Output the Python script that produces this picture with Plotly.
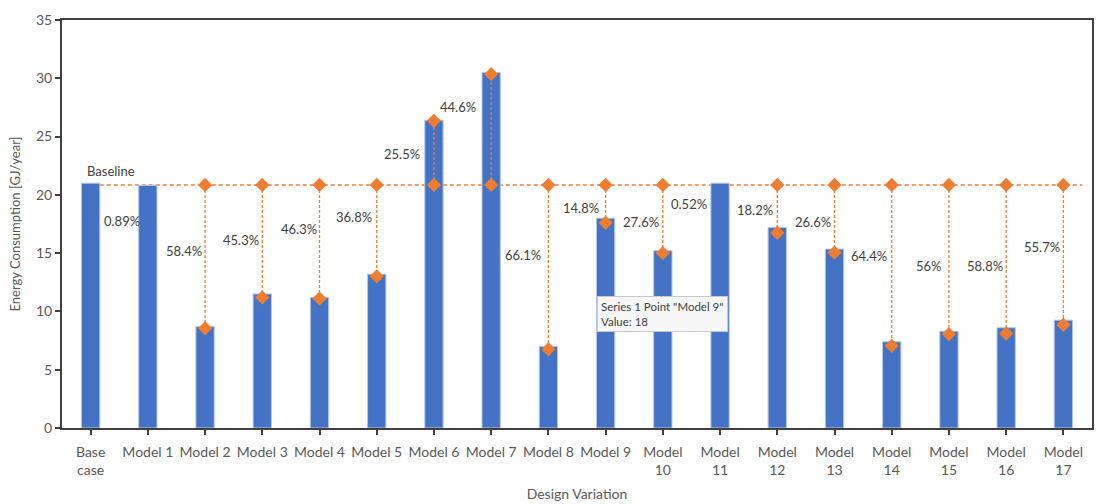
import plotly.graph_objects as go

categories = ["Base<br>case", "Model 1", "Model 2", "Model 3", "Model 4", "Model 5",
              "Model 6", "Model 7", "Model 8", "Model 9", "Model<br>10", "Model<br>11",
              "Model<br>12", "Model<br>13", "Model<br>14", "Model<br>15", "Model<br>16",
              "Model<br>17"]
energy = [21.0, 20.8, 8.7, 11.5, 11.2, 13.2, 26.4, 30.5, 7.0, 18.0, 15.2, 21.0,
          17.2, 15.35, 7.4, 8.3, 8.6, 9.25]
baseline_value = 20.85
# orange reference series: model index -> marker value at the bar
marker_models = [2, 3, 4, 5, 6, 7, 8, 9, 10, 12, 13, 14, 15, 16, 17]
marker_values = [8.55, 11.2, 11.1, 13.0, 26.35, 30.35, 6.75, 17.6, 15.0, 16.75,
                 15.05, 7.05, 8.05, 8.1, 8.85]
pct_models = [1, 2, 3, 4, 5, 6, 7, 8, 9, 10, 11, 12, 13, 14, 15, 16, 17]
pct_labels = ["0.89%", "58.4%", "45.3%", "46.3%", "36.8%", "25.5%", "44.6%", "66.1%",
              "14.8%", "27.6%", "0.52%", "18.2%", "26.6%", "64.4%", "56%", "58.8%", "55.7%"]
tooltip_model = 9

# label placement (layout only)
pct_label_y = [17.8, 15.18, 16.12, 17.1, 18.1, 23.5, 27.5, 14.84, 18.87, 17.67, 19.2,
               18.7, 17.7, 14.78, 13.92, 13.92, 15.55]
pct_label_xshift = [-6, -1, -1, -1, -3, -12, -13, -5, -5, -2, -11, -2, -2, -3, -5, -1, -1]

ORANGE = "#ED7D31"
BLUE = "#4472C4"
FONT = "Lato"

fig = go.Figure()
fig.add_trace(go.Bar(x=categories, y=energy, width=0.32,
                     marker=dict(color=BLUE, line=dict(color="#B4C7E7", width=1)),
                     showlegend=False, hoverinfo="skip"))

for i, v in zip(marker_models, marker_values):
    fig.add_trace(go.Scatter(
        x=[categories[i], categories[i]], y=[baseline_value, v], mode="lines+markers",
        line=dict(color=ORANGE, width=1.3, dash="3px,2px"),
        marker=dict(symbol="diamond", size=11, color=ORANGE),
        showlegend=False, hoverinfo="skip"))

fig.add_shape(type="line", xref="x", yref="y", x0=0.16, x1=len(categories) - 1 + 0.33,
              y0=baseline_value, y1=baseline_value, layer="below",
              line=dict(color=ORANGE, width=1.5, dash="4px,3px"))

for i, t, y, xs in zip(pct_models, pct_labels, pct_label_y, pct_label_xshift):
    fig.add_annotation(x=categories[i], y=y, text=t, showarrow=False, xanchor="right",
                       yanchor="middle", xshift=xs, font=dict(family=FONT, size=13, color="#404040"))

fig.add_annotation(x=categories[0], y=22.05, text="Baseline", showarrow=False,
                   xanchor="left", yanchor="middle", xshift=-6,
                   font=dict(family=FONT, size=13, color="#404040"))

fig.add_annotation(x=categories[tooltip_model], y=11.35, yanchor="top", xanchor="left", xshift=-9,
                   text=f'Series 1 Point "{categories[tooltip_model]}"<br>Value: {energy[tooltip_model]:g}',
                   showarrow=False, align="left", bgcolor="#F7F7F7", bordercolor="#C8C8C8",
                   borderwidth=1, borderpad=3, font=dict(family=FONT, size=11.5, color="#404040"))

fig.update_layout(
    width=1101, height=504,
    margin=dict(l=62, r=9, t=20, b=76),
    plot_bgcolor="white", paper_bgcolor="white",
    font=dict(family=FONT, size=14, color="#595959"),
    bargap=0.5,
)
fig.update_xaxes(type="category", categoryorder="array", categoryarray=categories,
                 automargin=False,
                 showline=True, linecolor="#404040", linewidth=2, mirror=True,
                 ticks="outside", ticklen=5, tickcolor="#404040", tickwidth=2,
                 ticklabelstandoff=5,
                 tickfont=dict(family=FONT, size=14, color="#595959"),
                 title=dict(text="Design Variation", font=dict(family=FONT, size=14, color="#595959"), standoff=12),
                 showgrid=False, range=[-0.5, len(categories) - 0.5])
fig.update_yaxes(range=[0, 35], dtick=5, showline=True, linecolor="#404040", linewidth=2,
                 automargin=False,
                 mirror=True, ticks="outside", ticklen=5, tickcolor="#404040", tickwidth=2,
                 tickfont=dict(family=FONT, size=14, color="#595959"),
                 title=dict(text="Energy Consumption [GJ/year]", font=dict(family=FONT, size=13, color="#595959"), standoff=12),
                 showgrid=False, zeroline=False)

fig.write_html("out.html")
